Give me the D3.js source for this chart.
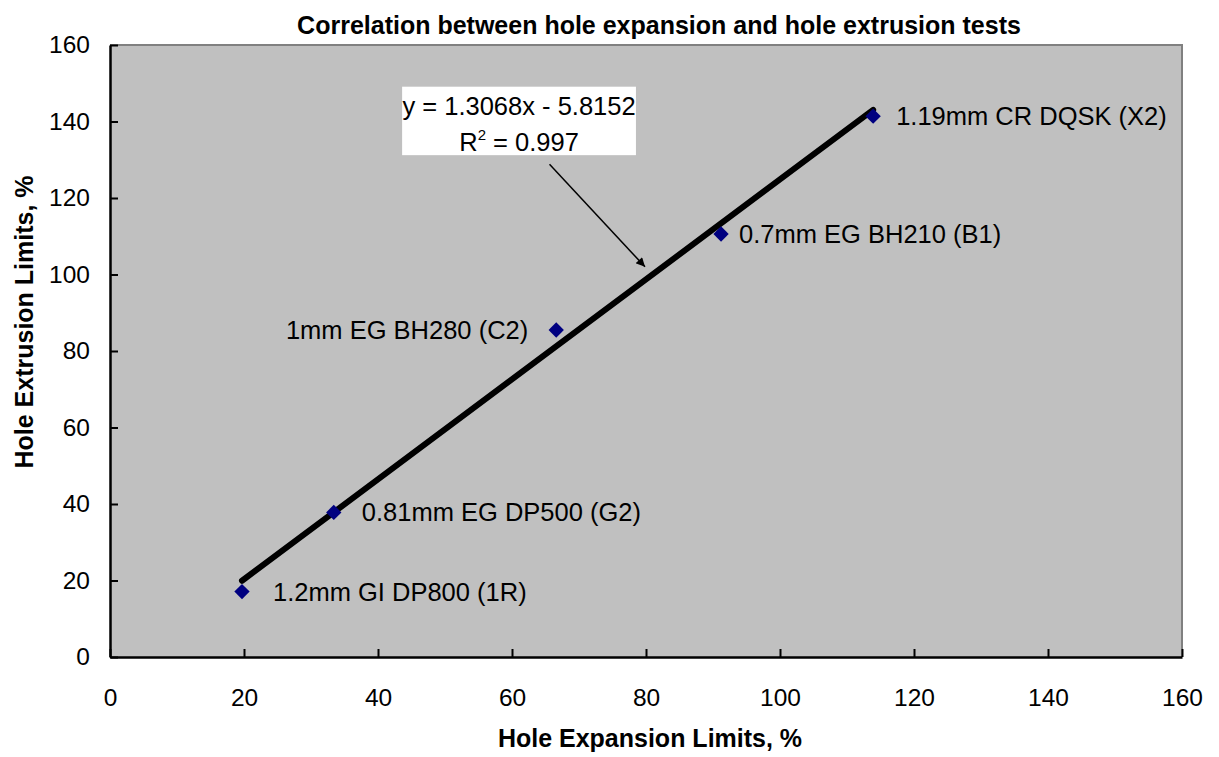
<!DOCTYPE html>
<html>
<head>
<meta charset="utf-8">
<script src="https://cdn.jsdelivr.net/npm/d3@7"></script>
<style>
  html, body { margin: 0; padding: 0; background: #fff; }
  svg { display: block; }
  text { font-family: Arial, "Liberation Sans", Helvetica, sans-serif; fill: #000; }
</style>
</head>
<body>
<svg id="chart" width="1219" height="757"></svg>
<script>
// ---- Data ----
const materials = ["1.2mm GI DP800 (1R)", "0.81mm EG DP500 (G2)", "1mm EG BH280 (C2)", "0.7mm EG BH210 (B1)", "1.19mm CR DQSK (X2)"];
const holeExpansion = [19.7, 33.4, 66.6, 91.2, 113.9];
const holeExtrusion = [17.1, 37.8, 85.5, 110.6, 141.4];
const xTicks = [0, 20, 40, 60, 80, 100, 120, 140, 160];
const yTicks = [0, 20, 40, 60, 80, 100, 120, 140, 160];
const slope = 1.3068;
const intercept = -5.8152;
const rSquared = "0.997";
const chartTitle = "Correlation between hole expansion and hole extrusion tests";
const xTitle = "Hole Expansion Limits, %";
const yTitle = "Hole Extrusion Limits, %";

(function () {
// ---- Layout ----
const svg = d3.select("#chart");
const pl = 110, pr = 1182, pt = 45, pb = 657;
const x = d3.scaleLinear().domain([0, 160]).range([pl, pr]);
const y = d3.scaleLinear().domain([0, 160]).range([pb, pt]);

// plot background
svg.append("rect").attr("x", pl).attr("y", pt)
  .attr("width", pr - pl).attr("height", pb - pt)
  .attr("fill", "#c0c0c0");
// top & right border (gray)
svg.append("path").attr("d", `M${pl},${pt}H${pr}V${pb}`)
  .attr("fill", "none").attr("stroke", "#808080").attr("stroke-width", 2);

// axes
const xAxis = d3.axisBottom(x).tickValues(xTicks).tickSizeInner(-8).tickSizeOuter(0).tickPadding(32);
const yAxis = d3.axisLeft(y).tickValues(yTicks).tickSizeInner(-8).tickSizeOuter(0).tickPadding(20);
const gx = svg.append("g").attr("transform", `translate(0,${pb})`).call(xAxis);
const gy = svg.append("g").attr("transform", `translate(${pl},0)`).call(yAxis);
[gx, gy].forEach(g => {
  g.select(".domain").attr("stroke", "#000").attr("stroke-width", 2.5);
  g.selectAll(".tick line").attr("stroke", "#000").attr("stroke-width", 2);
  g.selectAll(".tick text").attr("font-size", 24.5).attr("fill", "#000")
    .attr("font-family", "Arial, 'Liberation Sans', sans-serif");
});

// trendline
const xMin = d3.min(holeExpansion), xMax = d3.max(holeExpansion);
const line = d3.line().x(d => x(d)).y(d => y(slope * d + intercept));
svg.append("path").datum([xMin, xMax]).attr("d", line)
  .attr("stroke", "#000").attr("stroke-width", 6).attr("stroke-linecap", "round").attr("fill", "none");

// points
const pts = holeExpansion.map((v, i) => ({ x: v, y: holeExtrusion[i], label: materials[i] }));
svg.selectAll("path.pt").data(pts).join("path").attr("class", "pt")
  .attr("d", d3.symbol().type(d3.symbolDiamond2).size(150))
  .attr("transform", d => `translate(${x(d.x)},${y(d.y)})`)
  .attr("fill", "#000080");

// point labels
const labelDx = [31, 28, -28, 18, 23];
svg.selectAll("text.lbl").data(pts).join("text").attr("class", "lbl")
  .attr("x", (d, i) => x(d.x) + labelDx[i])
  .attr("y", d => y(d.y))
  .attr("dy", "0.35em")
  .attr("text-anchor", (d, i) => labelDx[i] < 0 ? "end" : "start")
  .attr("font-size", 25.5)
  .text(d => d.label);

// equation box
const bx0 = x(43.6), bx1 = x(78.5), by0 = y(149.1), by1 = y(131.2);
svg.append("rect").attr("x", bx0).attr("y", by0).attr("width", bx1 - bx0).attr("height", by1 - by0).attr("fill", "#fff");
const cx = (bx0 + bx1) / 2;
svg.append("text").attr("x", cx).attr("y", by0 + 28).attr("text-anchor", "middle").attr("font-size", 25.5)
  .text(`y = ${slope}x - ${Math.abs(intercept)}`);
const t2 = svg.append("text").attr("x", cx).attr("y", by0 + 64).attr("text-anchor", "middle").attr("font-size", 25.5);
t2.append("tspan").text("R");
t2.append("tspan").attr("font-size", 15).attr("dy", -11).text("2");
t2.append("tspan").attr("dy", 11).text(` = ${rSquared}`);

// arrow
const defs = svg.append("defs");
defs.append("marker").attr("id", "arr").attr("viewBox", "0 0 10 10").attr("refX", 10).attr("refY", 5)
  .attr("markerWidth", 12).attr("markerHeight", 9).attr("markerUnits", "userSpaceOnUse").attr("orient", "auto")
  .append("path").attr("d", "M0,0L10,5L0,10Z").attr("fill", "#000");
svg.append("line").attr("x1", x(65.6)).attr("y1", y(128.8)).attr("x2", x(79.85)).attr("y2", y(102.0))
  .attr("stroke", "#000").attr("stroke-width", 1.5).attr("marker-end", "url(#arr)");

// titles
svg.append("text").attr("x", (295 + 1023) / 2).attr("y", 34).attr("text-anchor", "middle")
  .attr("font-size", 25).attr("font-weight", "bold").text(chartTitle);
svg.append("text").attr("x", x(80) + 4).attr("y", 747).attr("text-anchor", "middle")
  .attr("font-size", 25).attr("font-weight", "bold").text(xTitle);
svg.append("text").attr("transform", `translate(33,${(pt + pb) / 2 - 29}) rotate(-90)`).attr("text-anchor", "middle")
  .attr("font-size", 25).attr("font-weight", "bold").text(yTitle);
})();
</script>
</body>
</html>
